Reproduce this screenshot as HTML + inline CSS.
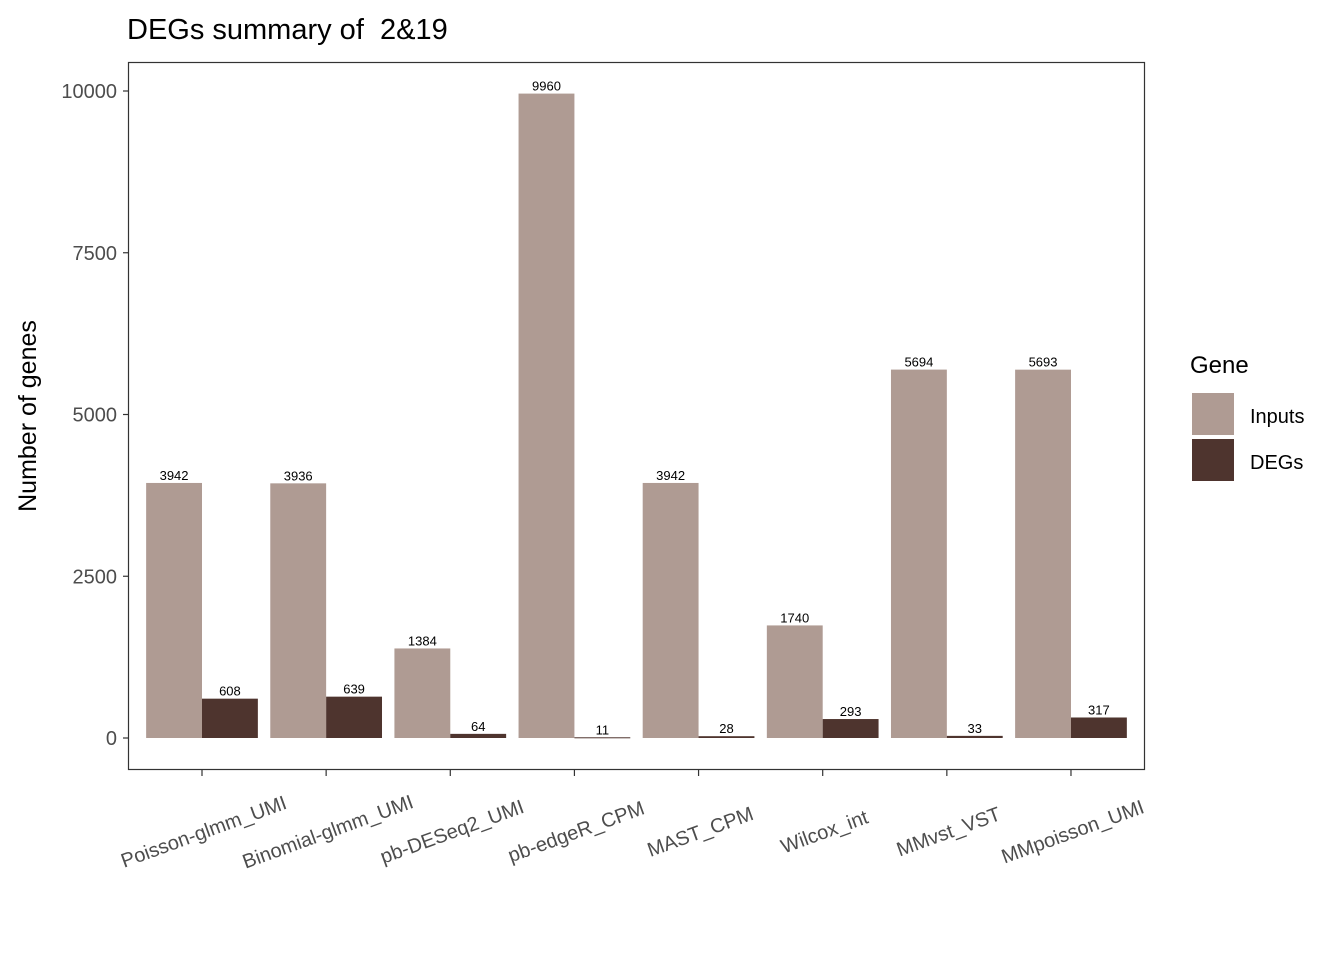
<!DOCTYPE html>
<html><head><meta charset="utf-8"><style>
body{margin:0;background:#fff;width:1344px;height:960px;overflow:hidden;font-family:"Liberation Sans",Arial,sans-serif}
</style></head><body>
<svg id="chart" width="1344" height="960" xmlns="http://www.w3.org/2000/svg" font-family="Liberation Sans, Arial, sans-serif">
<text x="127" y="39" font-size="29" fill="#000" xml:space="preserve" style="white-space:pre">DEGs summary of  2&amp;19</text>
<rect x="128.5" y="62.5" width="1016" height="707" fill="#fff" stroke="#333" stroke-width="1.2"/>
<g id="marks"></g>
<text transform="translate(36,416) rotate(-90)" text-anchor="middle" font-size="25" fill="#000">Number of genes</text>
<g>
<text x="1190" y="373" font-size="24">Gene</text>
<rect x="1192" y="393" width="42" height="42" fill="#af9b93"/>
<text x="1250" y="423" font-size="20">Inputs</text>
<rect x="1192" y="439" width="42" height="42" fill="#4e342e"/>
<text x="1250" y="469" font-size="20">DEGs</text>
</g>
</svg>
<script>
const categories=["Poisson-glmm_UMI","Binomial-glmm_UMI","pb-DESeq2_UMI","pb-edgeR_CPM","MAST_CPM","Wilcox_int","MMvst_VST","MMpoisson_UMI"];
const inputs=[3942,3936,1384,9960,3942,1740,5694,5693];
const degs=[608,639,64,11,28,293,33,317];
const yTicks=[0,2500,5000,7500,10000];
const NS="http://www.w3.org/2000/svg";
const g=document.getElementById('marks');
const step=124.14;
const xc=i=>202+step*i;
const y=v=>738-v*(738-91)/10000;
const bw=step*0.9/2;
function el(t,a){const e=document.createElementNS(NS,t);for(const k in a)e.setAttribute(k,a[k]);g.appendChild(e);return e;}
yTicks.forEach(t=>{
  const l=el('line',{x1:123,x2:128.5,y1:y(t),y2:y(t),stroke:'#333','stroke-width':1.2});
  
  
  const tx=el('text',{x:117,y:y(t)+7,'text-anchor':'end','font-size':20,fill:'#4d4d4d'});
  tx.textContent=t;
  
  
});
categories.forEach((c,i)=>{
  const cx=xc(i);
  const r1=el('rect',{x:cx-bw,y:y(inputs[i]),width:bw,height:y(0)-y(inputs[i]),fill:'#af9b93'});
  
  
  const r2=el('rect',{x:cx,y:y(degs[i]),width:bw,height:Math.max(1,y(0)-y(degs[i])),fill:'#4e342e'});
  
  
  const t1=el('text',{x:cx-bw/2,y:y(inputs[i])-3,'text-anchor':'middle','font-size':13,fill:'#000'});
  t1.textContent=inputs[i];
  
  
  const t2=el('text',{x:cx+bw/2,y:y(degs[i])-3,'text-anchor':'middle','font-size':13,fill:'#000'});
  t2.textContent=degs[i];
  
  
  const tk=el('line',{x1:cx,x2:cx,y1:769.5,y2:776,stroke:'#333','stroke-width':1.2});
  
  
  const xl=el('text',{transform:`translate(${cx+4},${838}) rotate(-20)`,'text-anchor':'middle','font-size':20,fill:'#4d4d4d'});
  xl.textContent=c;
  
  
});
</script>
</body></html>
